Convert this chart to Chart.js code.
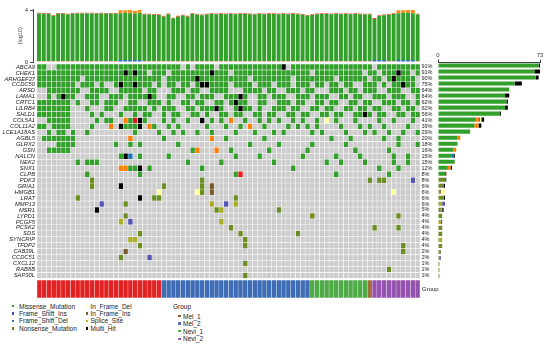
<!DOCTYPE html>
<html>
<head>
<meta charset="utf-8">
<script src="https://cdn.jsdelivr.net/npm/chart.js@4.4.1/dist/chart.umd.min.js"></script>
<style>
  body { margin: 0; background: #fff; font-family: "Liberation Sans", Arial, sans-serif; }
  #wrap { position: relative; width: 550px; height: 346px; overflow: hidden; background: #fff; }
  canvas { position: absolute; }
  #tmbChart { left: 0px; top: 0px; }
  #matrixChart { left: 0px; top: 58px; }
  #sideChart { left: 430px; top: 50px; }
  #groupChart { left: 0px; top: 280px; }
  .lg { position: absolute; font-size: 6.5px; line-height: 7px; color: #222; white-space: nowrap; }
  .sw { position: absolute; width: 2.5px; height: 2.5px; }
</style>
</head>
<body>
<div id="wrap">
  <canvas id="tmbChart" width="420" height="70"></canvas>
  <canvas id="matrixChart" width="438" height="226"></canvas>
  <canvas id="sideChart" width="120" height="229"></canvas>
  <canvas id="groupChart" width="420" height="18"></canvas>
</div>
<script>
// genes, top to bottom
const genes = ['ABCA9','CHEK1','ARHGEF37','CCDC50','ARSD','LAMA1','CRTC1','LILRB4','SHLD1','COL5A1',
  'COL11A2','LCE1A18AS','AGBL5','GLRX2','GSN','NALCN','NEK2','SNX1','CLPB','PDK3',
  'GRIA1','HMGB1','LRAT','MMP13','MSR1','LYPD1','PCGF5','PCSK2','SDS','SYNCRIP',
  'TFDP2','CAB39L','CCDC51','CXCL12','RAB8B','SAP30L'];
const genePct = ['91%','91%','90%','75%','64%','64%','62%','62%','56%','41%',
  '39%','29%','20%','18%','16%','15%','15%','12%','8%','8%',
  '6%','6%','6%','6%','5%','4%','4%','4%','4%','4%',
  '4%','2%','2%','1%','1%','1%'];

// one string per gene, one char per sample (80 samples, blocks of 10)
// . none, M missense, X multi hit, O/R/B/G/Y/P/W/L other classes
const mutRows = [
  'MM..MMMMMM MMMMMMMMMM MMMMMMMMMM .M.MMMM.MM MMMMMMMMMM MX.MMMMMMM MMMMMMMMMM .MMMMMMMMM',
  'MMMMMMMMMM MMMMMMMMXM XMM.MMM.MM MMMMMMXMMM .MMMMMMMMM MMMMMMM.MM MMMMMMMM.M M.MMMXMM.M',
  'MMMMMMMMM. MMMMMMMMMM MMMMMM.MMM MMMXMMMMMM MMMM.MMMMM MMM.MMMMMM MM.MMMMMM. MM.MXMMMM.',
  'MMMMMMMM.M MM.M..MXMM XMMM.M.MM. MM.MXXMMMM .MMMM.MMM. MMM.MMM.MM .MM.MM..MM M.M.MMXMM.',
  '..MMMMMMM. .MMMM..MMM MM.MM...MM M.MM..MMMM ...MMMM.MM ..MMM.MM.. .MMM.MM.MM M..MMM..MM',
  '..M.MXMM.. MMM..MMM.M MMMXM..MM. .MM.MMM..M MMXM..MM.M MM..MMM.MM M..MM.MM.. MMM.MMM..M',
  'MMMMMMM.M. .MM.MMM..M M..MMM.M.. MM.MM..MM. MXMM..MM.. MMM.MM..MM .MM..MM.MM ..MMM.MM.M',
  'MMMMMMM... M...MM..MM MMM.M.MMM. .MM.MMMXM. .MXMM.M..M MM.MM..MM. MM..MM.MM. MM..MM.MM.',
  'MMMMMMM... .M.M...M.. M.MM..M.MM ..MM.M..MM .MM..MM.MM ..MM.MM..M M.MM..MMXM .MM..MM.MM',
  '..MMMMM... ..M.MM..OM RXM...M.M. .M..X.M.M. O..M..M.M. M..M.M..M. L.M...M... .M..M...M.',
  'MM.MMMM... .M...O.XMM MX.OM..M.M .....M...M ..M.O..M.. ..M.M.M.M. ...M...M.M ..M....M..',
  '..M.MM.M.. M......... M....M..M. M..M..M... .M...M...M .M.....M.M ....M...M. M..M..M..M',
  '.MMMMMMM.. .........O ......M... ......O..M .......M.. .......... .M...M.... ..M..M....',
  '....MMMM.. ......M..M .M.......M .......... ....M..... M......M.. ....M..... .....M...M',
  '..MMMMM... .......... .......... ..MO...O.. M.......M. ......M... ......M... ...M......',
  '.......... .......MXB .M.....M.. .......... .M....M... .....M.... ..M....M.. ....M..M..',
  '........M. MMM....... .......... .M......M. .........M .......... M..M....M. ....M..M..',
  '.......... .......OOM MX.M...... ....M..... .......... ...M...... .......... .M...M....',
  '.......... M......... .M........ .......... .MR....... .......... ..M....... ...M......',
  '.......... .G........ .......... ....G..... .......... .......... .........G .GG.....P.',
  '.......... .G.....X.. ......G... ....G.W... .......... .......... .......... ..........',
  '.......... .......... .....L.... ...LG.W... .......... .......... .......... ....L.....',
  '........G. .......... .X..GG.... .......... .G........ .......... .......... ..........',
  '.......... ...P....G. .......... ......Y..P .Y........ .......... .......... ..........',
  '.......... ..X....... .......... .......GY. .......... G......... .......... ..........',
  '.......... ........G. .......... .......... .......... .......G.. .......... .....G....',
  '.......... .......Y.P .......... ........Y. .......... .......... .......... ..........',
  '.......... .......... .......... .......... G......... .......... .......... G....G....',
  '.......... .......... .G........ .......... ..G....... ....G..... .......... ..........',
  '.......... .........Y Y......... .......... ...G...... .......... .......... ..........',
  '.......... .......... .G........ .......... ...G...... .......... .......... ......G...',
  '.......... ........W. .......... .......... .......... .......... .......... ......G...',
  '.......... .......G.. ...P...... .......... .......... .......... .......... ..........',
  '.......... .......... .......... .......... ...G...... .......... .......... ..........',
  '.......... .......... .......... .......... .......... .......... .......... ...G......',
  '.......... .......... .......... .......... ...G...... .......... .......... ..........'
];

// top bar: log10 burden per sample, split into stacked parts
const tmbBase = [
  0.07,0.07,0.07,0.07,0.07,0.07,0.07,0.07,0.07,0.07,
  0.07,0.07,0.07,0.07,0.07,0.07,0.07,0.15,0.15,0.15,
  0.15,0.15,0.07,0.07,0.07,0.07,0.07,0.07,0.07,0.07,
  0.07,0.07,0.07,0.07,0.07,0.07,0.07,0.07,0.07,0.07,
  0.07,0.07,0.07,0.07,0.07,0.07,0.07,0.07,0.07,0.07,
  0.07,0.07,0.07,0.07,0.07,0.07,0.07,0.07,0.07,0.07,
  0.07,0.07,0.07,0.07,0.07,0.07,0.07,0.07,0.07,0.07,
  0.15,0.15,0.15,0.07,0.07,0.15,0.15,0.15,0.15,0.07];
const tmbMain = [
  3.67,3.65,3.65,3.47,3.65,3.65,3.59,3.65,3.67,3.67,
  3.67,3.67,3.65,3.67,3.65,3.65,3.65,3.62,3.64,3.62,
  3.60,3.64,3.59,3.59,3.57,3.55,3.43,3.61,3.29,3.43,
  3.51,3.43,3.63,3.57,3.53,3.59,3.63,3.61,3.63,3.61,
  3.63,3.61,3.63,3.63,3.61,3.59,3.63,3.61,3.63,3.63,
  3.61,3.63,3.61,3.63,3.61,3.57,3.49,3.55,3.61,3.63,
  3.63,3.61,3.63,3.61,3.63,3.61,3.63,3.61,3.59,3.59,
  3.16,3.39,3.45,3.57,3.63,3.62,3.64,3.64,3.62,3.59];
const tmbTop = [
  0.06,0.06,0.06,0.06,0.06,0.06,0.06,0.06,0.06,0.06,
  0.06,0.06,0.06,0.06,0.06,0.06,0.06,0.22,0.20,0.24,
  0.20,0.22,0.06,0.06,0.06,0.06,0.06,0.06,0.06,0.06,
  0.06,0.06,0.06,0.06,0.06,0.06,0.06,0.06,0.06,0.06,
  0.06,0.06,0.06,0.06,0.06,0.06,0.06,0.06,0.06,0.06,
  0.06,0.06,0.06,0.06,0.06,0.06,0.06,0.06,0.06,0.06,
  0.06,0.06,0.06,0.06,0.06,0.06,0.06,0.06,0.06,0.06,
  0.08,0.06,0.06,0.06,0.06,0.22,0.20,0.22,0.24,0.06];
const tmbBaseClass = 'NNNNNNNNNN NNNNNNNBBB BBNNNNNNNN NNNNNNNNNN NNNNNNNNNN NNNNNNNNNN NNNNNNNNNN BBBNNBBBBN';
const tmbTopClass  = 'RRRRRRRRRR RRRRRRROOO OORRRRRRRR RRRRRRRRRR RRRRRRRRRR RRRRRRRRRR RRRRRRRRRR RRRRROOOOR';

// sample groups (annotation bar)
const groupRow = 'AAAAAAAAAA AAAAAAAAAA AAAAAABBBB BBBBBBBBBB BBBBBBBBBB BBBBBBBCCC CCCCCCCCCD EEEEEEEEEE';

const legendClasses = ['Missense_Mutation','Frame_Shift_Ins','Frame_Shift_Del','Nonsense_Mutation',
  'In_Frame_Del','In_Frame_Ins','Splice_Site','Multi_Hit'];
const legendGroups = ['Mel_1','Mel_2','Nevi_1','Nevi_2'];

// styles
const cellColors = {
  '.': '#CDCDCD', M: '#33A02C', X: '#000000', O: '#FF7F00', R: '#E31A1C', B: '#1F78B4',
  G: '#6B8E23', Y: '#ABAB24', P: '#5454B8', W: '#7B5A2E', L: '#FFFF99'
};
const baseColors = { N: '#EE9070', B: '#2F6DB2' };
const topColors = { R: '#EE4A24', O: '#FF8A10' };
const groupColors = { A: '#E22222', B: '#3E6DB5', C: '#4FAA48', D: '#A0703A', E: '#9552AE' };
const legendClassColors = ['#33A02C','#4B4BAA','#3A72BA','#8B6A2A','#FFFFA0','#7F5F3A','#B5B530','#000000'];
const legendGroupColors = ['#8C5A34','#5A6FC0','#5AAF3C','#9A5FB8'];
const sideOrder = ['M','G','Y','O','R','B','P','W','L','X'];

const clean = s => s.replace(/ /g, '');
const rows = mutRows.map(clean);
const nSamples = rows[0].length;
const samples = Array.from({ length: nSamples }, (_, i) => 'S' + (i + 1));

Chart.defaults.font.family = '"Liberation Sans", Arial, sans-serif';
Chart.defaults.color = '#333';
Chart.defaults.animation = false;

// ---- top burden bars
const xy = arr => arr.map((v, i) => ({ x: i, y: v }));
const baseCls = clean(tmbBaseClass);
const topCls = clean(tmbTopClass);
new Chart(document.getElementById('tmbChart'), {
  type: 'bar',
  data: {
    datasets: [
      { data: xy(tmbBase), backgroundColor: baseCls.split('').map(c => baseColors[c]) },
      { data: xy(tmbMain), backgroundColor: '#33A02C' },
      { data: xy(tmbTop), backgroundColor: topCls.split('').map(c => topColors[c]) }
    ]
  },
  options: {
    responsive: false,
    layout: { padding: { left: 17, top: 9.5, bottom: 8, right: 0 } },
    plugins: { legend: { display: false }, tooltip: { enabled: false } },
    datasets: { bar: { barPercentage: 0.82, categoryPercentage: 1 } },
    scales: {
      x: { type: 'linear', offset: false, min: -1.25, max: 79.5, stacked: true, display: false },
      y: {
        stacked: true, min: 0, max: 4.05,
        afterBuildTicks: s => { s.ticks = [{ value: 0 }, { value: 4 }]; },
        afterFit: s => { s.width = 16; },
        grid: { drawOnChartArea: false, tickLength: 3, color: '#444' },
        border: { display: true, color: '#444' },
        ticks: { font: { size: 6 }, padding: 2 },
        title: { display: true, text: '(log10)', font: { size: 5.5 }, padding: 0, color: '#444' }
      }
    }
  }
});

// ---- oncoplot matrix: one stacked dataset per sample
new Chart(document.getElementById('matrixChart'), {
  type: 'bar',
  data: {
    labels: genes,
    datasets: samples.map((s, j) => ({
      label: s,
      data: genes.map(() => 1),
      backgroundColor: rows.map(r => cellColors[r[j]]),
      borderColor: '#ffffff',
      borderWidth: 0.5,
      borderSkipped: false
    }))
  },
  options: {
    responsive: false,
    indexAxis: 'y',
    layout: { padding: { top: 6, bottom: 5.5, left: 0, right: 0 } },
    plugins: { legend: { display: false }, tooltip: { enabled: false } },
    datasets: { bar: { barPercentage: 1, categoryPercentage: 1 } },
    scales: {
      x: { stacked: true, min: 0, max: nSamples, display: false },
      y: {
        stacked: true, offset: true,
        afterFit: s => { s.width = 37; },
        grid: { display: false, drawTicks: false },
        border: { display: false },
        ticks: { autoSkip: false, padding: 2, color: '#222', font: { size: 5.8, style: 'italic' } }
      },
      y2: {
        type: 'category', position: 'right', labels: genePct, offset: true,
        afterFit: s => { s.width = 18; },
        grid: { display: false, drawTicks: false },
        border: { display: false },
        ticks: { autoSkip: false, padding: 1.5, color: '#222', font: { size: 5.5 } }
      }
    }
  }
});

// ---- side bars: mutated samples per gene, stacked by class
new Chart(document.getElementById('sideChart'), {
  type: 'bar',
  data: {
    labels: genes,
    datasets: sideOrder.map(c => ({
      data: rows.map(r => r.split('').filter(ch => ch === c).length),
      backgroundColor: cellColors[c]
    }))
  },
  options: {
    responsive: false,
    indexAxis: 'y',
    layout: { padding: { left: 8, right: 10, top: 0, bottom: 0 } },
    plugins: { legend: { display: false }, tooltip: { enabled: false } },
    datasets: { bar: { barPercentage: 0.68, categoryPercentage: 1 } },
    scales: {
      x: {
        stacked: true, position: 'top', min: 0, max: 73,
        afterBuildTicks: s => { s.ticks = [{ value: 0 }, { value: 73 }]; },
        afterFit: s => { s.height = 12.5; },
        grid: { drawOnChartArea: false, tickLength: 3, color: '#444' },
        border: { display: true, color: '#444' },
        ticks: { font: { size: 6 }, padding: 1, maxRotation: 0 }
      },
      y: { stacked: true, display: false, offset: true }
    }
  }
});

// ---- group annotation bar
const grp = clean(groupRow);
new Chart(document.getElementById('groupChart'), {
  type: 'bar',
  data: {
    labels: samples,
    datasets: [{
      data: samples.map(() => 1),
      backgroundColor: grp.split('').map(g => groupColors[g]),
      borderColor: 'rgba(255,255,255,0.25)',
      borderWidth: 0.5,
      borderSkipped: false
    }]
  },
  options: {
    responsive: false,
    layout: { padding: { left: 37, top: 0, bottom: 0, right: 0 } },
    plugins: { legend: { display: false }, tooltip: { enabled: false } },
    datasets: { bar: { barPercentage: 1, categoryPercentage: 1 } },
    scales: { x: { display: false }, y: { display: false, min: 0, max: 1 } }
  }
});

// ---- text: group label and legends
const wrap = document.getElementById('wrap');
function addText(txt, x, y, size) {
  const d = document.createElement('div');
  d.className = 'lg';
  d.textContent = txt;
  d.style.left = x + 'px';
  d.style.top = (y - 3.5) + 'px';
  if (size) d.style.fontSize = size + 'px';
  wrap.appendChild(d);
}
function addSwatch(col, x, y) {
  const d = document.createElement('div');
  d.className = 'sw';
  d.style.left = x + 'px';
  d.style.top = (y - 1.25) + 'px';
  d.style.background = col;
  wrap.appendChild(d);
}
addText('Group', 422, 289.5, 6);

legendClasses.forEach((name, i) => {
  const col = Math.floor(i / 4), row = i % 4;
  const y = 306 + row * 7.45;
  const sx = col === 0 ? 11.5 : 85.5;
  const tx = col === 0 ? 19 : 90.5;
  addSwatch(legendClassColors[i], sx, y);
  addText(name, tx, y);
});
addText('Group', 173, 306);
legendGroups.forEach((name, i) => {
  const y = 316 + i * 7.6;
  addSwatch(legendGroupColors[i], 178, y);
  addText(name, 183, y);
});
</script>
</body>
</html>
